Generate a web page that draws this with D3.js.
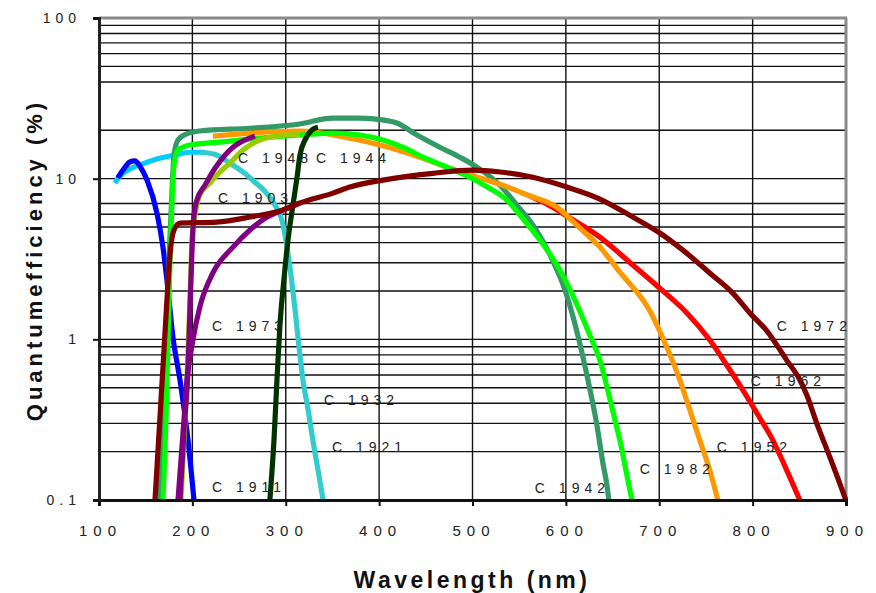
<!DOCTYPE html>
<html>
<head>
<meta charset="utf-8">
<script src="https://cdn.jsdelivr.net/npm/d3@7"></script>
<style>
  html, body { margin: 0; padding: 0; background: #fff; }
  svg { display: block; }
</style>
</head>
<body>
<svg id="chart" width="876" height="593"></svg>
<script>
// Photocathode spectral response curves: wavelength (nm) vs quantum efficiency (%)
const xTicks = [100, 200, 300, 400, 500, 600, 700, 800, 900];
const yTicks = [0.1, 1, 10, 100];
const yTickLabels = ["0.1", "1", "10", "100"];
const yMinorGrid = [90, 80, 70, 60, 50, 40, 20, 7, 6, 5, 4, 3, 2, 0.9, 0.8, 0.7, 0.6, 0.5, 0.4, 0.3, 0.2];

const deepSkyWl = [117, 122.5, 133, 149, 165, 181, 197, 213.5];
const deepSkyQe = [9.4, 10.4, 11.5, 12.5, 13.4, 14.0, 14.6, 14.6];

const turquoiseWl = [208, 224, 240, 256, 267, 278, 288, 296, 301, 305.6, 310, 314, 318.4, 324, 329, 334.5, 340];
const turquoiseQe = [14.6, 14.2, 12.5, 10.8, 9.5, 8.3, 6.9, 5.5, 3.86, 2.51, 1.52, 0.92, 0.56, 0.363, 0.236, 0.154, 0.1];

const blueWl = [120, 127, 133, 138.5, 144, 151.4, 162.1, 168.5, 173.9, 179.2, 186.7, 195.3, 201.7];
const blueQe = [10.1, 11.6, 12.7, 12.9, 11.9, 9.8, 6.1, 3.75, 2.03, 1.03, 0.56, 0.236, 0.1];

const seaGreenWl = [165.3, 168.5, 171.7, 174.9, 178.2, 180.3, 184.6, 193, 208, 262, 315, 350, 379, 404, 419, 440.5, 465, 486.5, 504.7, 529.3, 547.5, 566.8, 583, 599, 612.8, 623.6, 633.2, 639.6, 643.9, 646];
const seaGreenQe = [0.1, 0.315, 0.99, 3.1, 8.5, 14.0, 17.4, 18.9, 19.8, 20.6, 21.9, 23.8, 23.8, 23.2, 22.2, 18.7, 15.7, 13.6, 11.8, 9.1, 6.85, 4.93, 3.35, 2.03, 1.06, 0.56, 0.293, 0.17, 0.124, 0.1];

const redWl = [561.5, 577.5, 604.3, 636.4, 671.7, 700.6, 729.6, 754.1, 772.4, 791.6, 807.7, 821.6, 835.5, 850.5];
const redQe = [7.8, 7.05, 5.69, 4.33, 2.9, 2.08, 1.46, 0.99, 0.69, 0.463, 0.324, 0.236, 0.158, 0.1];

const orangeWl = [222, 262, 315, 358, 401, 443.7, 475.8, 508, 534.7, 561.5, 590.4, 615, 636.4, 657.8, 690, 708, 722, 732.8, 743.4, 754, 762.7];
const orangeQe = [18.4, 19.2, 19.8, 18.4, 16.2, 13.6, 11.6, 10.1, 9.0, 7.8, 6.64, 4.93, 3.75, 2.62, 1.5, 0.895, 0.56, 0.363, 0.236, 0.154, 0.1];

const limeWl = [168.5, 171.7, 173.9, 176, 178.2, 180.3, 184.6, 197.4, 229.6, 272.4, 315, 350.5, 379.4, 404, 427.6, 447, 472.6, 497.2, 515.4, 536.8, 550.7, 572.2, 593.6, 609.6, 625.7, 636.4, 645, 652.5, 657.8, 664.2, 670.7];
const limeQe = [0.1, 0.315, 0.99, 3.1, 7.36, 12.1, 15.1, 16.2, 16.9, 17.9, 18.7, 19.2, 18.7, 17.4, 15.5, 13.6, 11.8, 10.2, 8.9, 7.36, 5.94, 4.15, 2.7, 1.76, 1.06, 0.74, 0.48, 0.315, 0.236, 0.154, 0.1];

const yellowGreenWl = [187.8, 191, 194.2, 197.4, 199.6, 202.8, 208, 218.8, 229.6, 240.3, 254.2, 272.4, 290.6, 315];
const yellowGreenQe = [0.1, 0.236, 0.56, 1.76, 4.15, 5.94, 7.9, 9.4, 11.0, 12.5, 15.1, 17.4, 18.4, 18.9];

const purpleLowWl = [184.6, 187.8, 191, 194.2, 199.6, 208, 222, 243.5, 261.7, 280, 297, 315];
const purpleLowQe = [0.1, 0.177, 0.315, 0.56, 0.92, 1.59, 2.59, 3.75, 4.79, 5.77, 6.38, 7.05];

const purpleHighWl = [186.7, 191, 195.3, 197.4, 199.6, 201.7, 204.9, 213.5, 224.2, 234.9, 243.5, 256.3, 267];
const purpleHighQe = [0.1, 0.273, 0.64, 1.52, 3.59, 5.94, 7.36, 9.1, 11.6, 14.0, 15.7, 17.4, 18.4];

const darkGreenWl = [283, 287.4, 290.6, 293.8, 298, 302.4, 307.7, 312, 315.2, 320.6, 328, 334.5];
const darkGreenQe = [0.1, 0.236, 0.56, 1.23, 2.34, 4.15, 6.85, 10.1, 14.0, 17.4, 20.1, 20.9];

const darkRedWl = [160, 163.2, 166.4, 169.6, 172.8, 176, 180.3, 186.7, 226.3, 261.7, 297, 315.2, 350.5, 368.7, 404, 457.6, 500.4, 529.3, 564.7, 601, 636.4, 671.7, 700.6, 725.3, 754, 778.8, 797, 815.2, 836.6, 850.5, 858, 868.7, 882.7, 891.2, 899.8];
const darkRedQe = [0.1, 0.205, 0.42, 0.86, 1.76, 3.35, 4.79, 5.29, 5.37, 5.77, 6.38, 7.05, 8.13, 8.87, 9.8, 10.8, 11.3, 11.0, 10.2, 8.87, 7.47, 5.77, 4.59, 3.59, 2.59, 1.94, 1.46, 1.13, 0.74, 0.56, 0.45, 0.30, 0.185, 0.137, 0.1];

// Curve annotations, anchored in data space (wavelength, QE)
const labelTexts = ["C 1948", "C 1944", "C 1903", "C 1973", "C 1932", "C 1921", "C 1911", "C 1942", "C 1982", "C 1952", "C 1962", "C 1972"];
const labelWl = [248.8, 332.3, 227.4, 221, 340.9, 349.5, 221, 566.8, 679.2, 761.7, 798.1, 825.9];
const labelQe = [12.5, 12.5, 7.05, 1.13, 0.39, 0.20, 0.112, 0.111, 0.145, 0.199, 0.51, 1.13];

// Drawing order (later is on top) and colours
const series = [
  { wl: deepSkyWl, qe: deepSkyQe, color: "#00CCFF" },
  { wl: turquoiseWl, qe: turquoiseQe, color: "#33CCCC" },
  { wl: blueWl, qe: blueQe, color: "#0000FF" },
  { wl: seaGreenWl, qe: seaGreenQe, color: "#339966" },
  { wl: redWl, qe: redQe, color: "#FF0000" },
  { wl: orangeWl, qe: orangeQe, color: "#FF9900" },
  { wl: limeWl, qe: limeQe, color: "#00FF00" },
  { wl: yellowGreenWl, qe: yellowGreenQe, color: "#99CC00" },
  { wl: purpleHighWl, qe: purpleHighQe, color: "#800080" },
  { wl: purpleLowWl, qe: purpleLowQe, color: "#800080" },
  { wl: darkGreenWl, qe: darkGreenQe, color: "#003300" },
  { wl: darkRedWl, qe: darkRedQe, color: "#800000" }
];

const svg = d3.select("#chart");
const x = d3.scaleLinear().domain([100, 900]).range([99, 846]);
const y = d3.scaleLog().domain([0.1, 100]).range([500, 18]);

const grid = svg.append("g").attr("stroke", "#111").attr("stroke-width", 1.4);
// horizontal grid (decades + selected minor lines)
grid.selectAll("line.h").data(yTicks.concat(yMinorGrid)).join("line")
  .attr("x1", x(100)).attr("x2", x(900))
  .attr("y1", d => y(d)).attr("y2", d => y(d));
// vertical grid
grid.selectAll("line.v").data(xTicks.slice(1, -1)).join("line")
  .attr("x1", d => x(d)).attr("x2", d => x(d))
  .attr("y1", y(100)).attr("y2", y(0.1));

// plot frame: grey top/right, dark axes on left/bottom
svg.append("line").attr("x1", x(100)).attr("x2", x(900) + 1).attr("y1", y(100)).attr("y2", y(100))
  .attr("stroke", "#8a8a8a").attr("stroke-width", 3);
svg.append("line").attr("x1", x(900)).attr("x2", x(900)).attr("y1", y(100)).attr("y2", y(0.1))
  .attr("stroke", "#8a8a8a").attr("stroke-width", 3);

// curves
const line = d3.line()
  .x(d => x(d[0]))
  .y(d => y(d[1]))
  .curve(d3.curveMonotoneX);

svg.append("g").selectAll("path").data(series).join("path")
  .attr("d", s => line(s.wl.map((w, i) => [w, s.qe[i]])))
  .attr("fill", "none")
  .attr("stroke", s => s.color)
  .attr("stroke-width", 5.2)
  .attr("stroke-linejoin", "round")
  .attr("stroke-linecap", "butt");

// axes
const xAxis = d3.axisBottom(x).tickValues(xTicks).tickSize(6).tickFormat(d3.format("d"));
const gx = svg.append("g").attr("transform", `translate(0,${y(0.1)})`).call(xAxis);
gx.select(".domain").attr("stroke", "#111").attr("stroke-width", 3);
gx.selectAll(".tick line").attr("stroke", "#111").attr("stroke-width", 2);
gx.selectAll(".tick text")
  .attr("y", 25)
  .attr("dx", "1px")
  .style("font-family", "Liberation Sans, Arial, sans-serif")
  .style("font-size", "15px")
  .style("letter-spacing", "6px")
  .attr("fill", "#222");

const yAxis = d3.axisLeft(y).tickValues(yTicks).tickSize(6).tickFormat((d, i) => yTickLabels[i]);
const gy = svg.append("g").attr("transform", `translate(${x(100)},0)`).call(yAxis);
gy.select(".domain").attr("stroke", "#222").attr("stroke-width", 3);
gy.selectAll(".tick line").attr("stroke", "#111").attr("stroke-width", 2);
gy.selectAll(".tick text")
  .attr("x", -18)
  .style("font-family", "Liberation Sans, Arial, sans-serif")
  .style("font-size", "14px")
  .style("letter-spacing", "5px")
  .attr("fill", "#222");

// curve labels
svg.append("g").selectAll("text").data(labelTexts).join("text")
  .attr("x", (d, i) => x(labelWl[i]))
  .attr("y", (d, i) => y(labelQe[i]))
  .text(d => d)
  .style("font-family", "Liberation Sans, Arial, sans-serif")
  .style("font-size", "14px")
  .style("letter-spacing", "5px")
  .attr("fill", "#222");

// axis titles
svg.append("text")
  .attr("x", 472).attr("y", 588)
  .attr("text-anchor", "middle")
  .text("Wavelength (nm)")
  .style("font-family", "Liberation Sans, Arial, sans-serif")
  .style("font-weight", "bold")
  .style("font-size", "23px")
  .style("letter-spacing", "3.5px")
  .attr("fill", "#111");

svg.append("text")
  .attr("transform", "translate(42,260) rotate(-90)")
  .attr("text-anchor", "middle")
  .text("Quantumefficiency (%)")
  .style("font-family", "Liberation Sans, Arial, sans-serif")
  .style("font-weight", "bold")
  .style("font-size", "22px")
  .style("letter-spacing", "4px")
  .attr("fill", "#111");
</script>
</body>
</html>
